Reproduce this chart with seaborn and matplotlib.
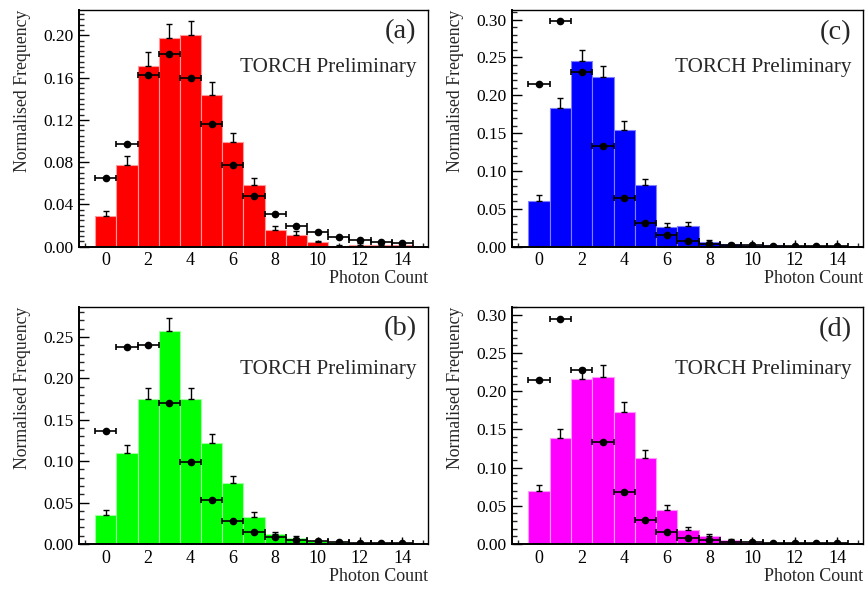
import numpy as np
import pandas as pd
import matplotlib
matplotlib.use("Agg")
import matplotlib.pyplot as plt
from matplotlib.ticker import MultipleLocator, FormatStrFormatter
import seaborn as sns

# ---------------- data ----------------
photon_count = list(range(15))

bars_a = [0.029, 0.077, 0.171, 0.1975, 0.2006, 0.1435, 0.0987, 0.058, 0.0158, 0.011, 0.004, 0.001, 0.002, 0.002, 0.0015]
berr_a = [0.005, 0.009, 0.013, 0.0135, 0.0134, 0.0125, 0.0093, 0.007, 0.0038, 0.0035, 0.0017, 0.001, 0.0012, 0.0012, 0.001]
pts_a = [0.0653, 0.0975, 0.162, 0.182, 0.160, 0.116, 0.077, 0.0476, 0.0306, 0.0199, 0.0142, 0.0091, 0.0066, 0.0047, 0.0035]

bars_b = [0.0354, 0.1095, 0.1751, 0.2572, 0.1751, 0.1224, 0.0737, 0.0326, 0.0117, 0.0068, 0.0036, 0.002, 0.0016, 0.0008, 0.0008]
berr_b = [0.0061, 0.0101, 0.013, 0.016, 0.013, 0.0106, 0.008, 0.0056, 0.0032, 0.0025, 0.0018, 0.0014, 0.0012, 0.0009, 0.0009]
pts_b = [0.136, 0.2383, 0.2403, 0.1699, 0.099, 0.0535, 0.0278, 0.0149, 0.008, 0.0048, 0.0032, 0.002, 0.0012, 0.0008, 0.0008]

bars_c = [0.0604, 0.183, 0.245, 0.224, 0.154, 0.0815, 0.026, 0.0273, 0.0066, 0.003, 0.002, 0.0018, 0.0013, 0.001, 0.001]
berr_c = [0.0074, 0.013, 0.015, 0.015, 0.012, 0.0085, 0.005, 0.0047, 0.0022, 0.0015, 0.0012, 0.001, 0.001, 0.0009, 0.0009]
pts_c = [0.2154, 0.2978, 0.2304, 0.1326, 0.0648, 0.0313, 0.015, 0.0079, 0.004, 0.0026, 0.0018, 0.0013, 0.0009, 0.0007, 0.0006]

bars_d = [0.0689, 0.139, 0.2158, 0.2189, 0.1727, 0.1129, 0.0449, 0.0187, 0.010, 0.0052, 0.0026, 0.0017, 0.0013, 0.0009, 0.0009]
berr_d = [0.0078, 0.011, 0.014, 0.0148, 0.0131, 0.0105, 0.0066, 0.004, 0.0026, 0.0018, 0.0015, 0.0012, 0.001, 0.0009, 0.0009]
pts_d = [0.215, 0.2948, 0.2276, 0.1334, 0.0676, 0.0318, 0.0153, 0.0078, 0.0048, 0.003, 0.0022, 0.0017, 0.0013, 0.0009, 0.0009]

panel_labels = ["(a)", "(b)", "(c)", "(d)"]
x_label = "Photon Count"
y_label = "Normalised Frequency"
watermark = "TORCH Preliminary"

# ---------------- style ----------------
sns.set_theme(style="ticks")
plt.rcParams["font.family"] = ["Liberation Serif", "DejaVu Serif"]

fig = plt.figure(figsize=(8.67, 5.93), dpi=100)
fig.patch.set_facecolor("white")

panels = [
    ("(a)", bars_a, berr_a, pts_a, "#ff0000", "#ff9a9a", [0.0915, 0.584, 0.4018, 0.3992], 0.224, 0.04, 0.005, (0.907, 0.768)),
    ("(c)", bars_c, berr_c, pts_c, "#0000ff", "#8080ff", [0.5909, 0.584, 0.4042, 0.3992], 0.3128, 0.05, 0.01, (0.906, 0.768)),
    ("(b)", bars_b, berr_b, pts_b, "#00ff00", "#a0ffa0", [0.0915, 0.0826, 0.4018, 0.4002], 0.2866, 0.05, 0.01, (0.909, 0.745)),
    ("(d)", bars_d, berr_d, pts_d, "#ff00ff", "#ff9aff", [0.5909, 0.0826, 0.4042, 0.4002], 0.3105, 0.05, 0.01, (0.902, 0.745)),
]

for lab, bars, errs, pts, col, edge, rect, ytop, major, minor, tpos in panels:
    ax = fig.add_axes(rect)
    df = pd.DataFrame({"count": photon_count, "freq": bars})
    sns.histplot(data=df, x="count", weights="freq", discrete=True, stat="count",
                 color=col, edgecolor=edge, linewidth=0.8, alpha=1.0, ax=ax, zorder=2.6)
    ax.errorbar(photon_count, bars, yerr=[np.zeros(len(errs)), errs], fmt="none",
                ecolor="black", elinewidth=1.0, capsize=2.4, capthick=1.0, zorder=2.7)
    ax.errorbar(photon_count, pts, xerr=0.5, fmt="o", color="black", ms=4.5,
                elinewidth=1.2, capsize=2.0, capthick=1.2, zorder=4)

    ax.set_xlim(-1.25, 15.2)
    ax.set_ylim(0, ytop)
    ax.xaxis.set_major_locator(MultipleLocator(2))
    ax.xaxis.set_minor_locator(MultipleLocator(1))
    ax.yaxis.set_major_locator(MultipleLocator(major))
    ax.yaxis.set_minor_locator(MultipleLocator(minor))
    ax.yaxis.set_major_formatter(FormatStrFormatter("%.2f"))

    ax.tick_params(axis="y", which="major", direction="in", length=7.2, width=1.0,
                   labelsize=12.5, pad=4, colors="black", left=True, right=False)
    ax.tick_params(axis="y", which="minor", direction="in", length=3.6, width=1.0,
                   left=True, right=False)
    ax.tick_params(axis="x", which="major", direction="in", length=5, width=1.0,
                   labelsize=13, pad=4, colors="black", bottom=True, top=False)
    ax.tick_params(axis="x", which="minor", direction="in", length=2.8, width=1.0,
                   bottom=True, top=False)
    for s in ax.spines.values():
        s.set_color("black")
        s.set_linewidth(1.0)
        s.set_zorder(5)
        s.set_visible(True)
    ax.spines["left"].set_linewidth(1.4)
    ax.spines["bottom"].set_linewidth(1.4)

    ax.set_xlabel(x_label, fontsize=13, loc="right")
    ax.xaxis.set_label_coords(1.0, -0.10)
    ax.set_ylabel(y_label, fontsize=12.8, loc="top")
    ax.yaxis.set_label_coords(-0.138, 1.0)

    ax.text(0.968, tpos[0], lab, transform=ax.transAxes, ha="right", va="center", fontsize=20.5)
    ax.text(0.968, tpos[1] - 0.01, watermark, transform=ax.transAxes, ha="right", va="center", fontsize=15.2)
    ax.grid(False)

fig.savefig("out.png", dpi=100, facecolor="white")
